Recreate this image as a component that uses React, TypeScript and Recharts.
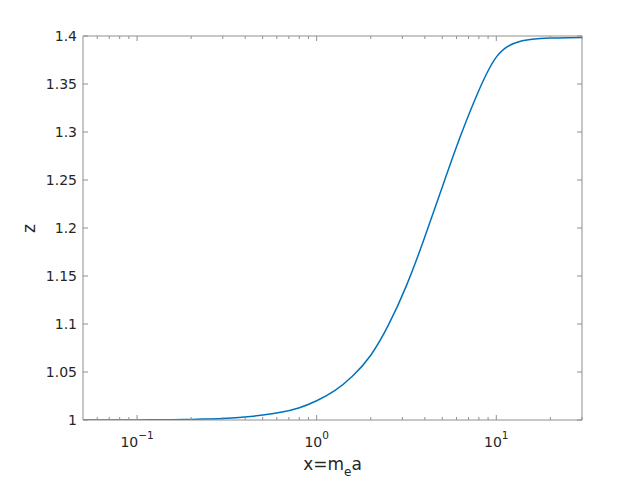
import React from 'react';
import { LineChart, Line, XAxis, YAxis } from 'recharts';

// x = m_e a (log scale), z values
const xValues = [0.05, 0.0794, 0.1, 0.126, 0.158, 0.2, 0.251, 0.316, 0.398, 0.501, 0.631, 0.794, 1, 1.26, 1.58, 2.0, 2.51, 3.16, 3.98, 5.01, 6.31, 7.94, 10, 12.6, 15.8, 20, 25.1, 30];
const zValues = [1.0000, 1.0000, 1.0001, 1.0002, 1.0003, 1.0006, 1.0011, 1.0019, 1.0032, 1.0051, 1.0080, 1.0125, 1.0200, 1.0305, 1.0455, 1.0675, 1.0990, 1.1400, 1.1895, 1.2430, 1.2955, 1.3420, 1.3780, 1.3925, 1.3966, 1.3979, 1.3983, 1.3984];

const xMajorTicks = [0.1, 1, 10];
const xMajorExponents = ['\u22121', '0', '1'];
const xMinorTicks = [0.06, 0.07, 0.08, 0.09, 0.2, 0.3, 0.4, 0.5, 0.6, 0.7, 0.8, 0.9, 2, 3, 4, 5, 6, 7, 8, 9, 20, 30];
const yTicks = [1, 1.05, 1.1, 1.15, 1.2, 1.25, 1.3, 1.35, 1.4];
const yTickLabels = ['1', '1.05', '1.1', '1.15', '1.2', '1.25', '1.3', '1.35', '1.4'];

const data = xValues.map((x, i) => ({ x, z: zValues[i] }));
const allXTicks = [...xMinorTicks, ...xMajorTicks].sort((a, b) => a - b);

const FONT = '"DejaVu Sans", sans-serif';
const TEXT = '#262626';
const AXIS = '#8f8f8f';
const W = 643;
const H = 482;

function BottomTick(props: any) {
  const { x, y, payload } = props;
  const idx = xMajorTicks.indexOf(payload.value);
  const len = idx >= 0 ? 5 : 3;
  return (
    <g>
      <line x1={x} x2={x} y1={y} y2={y - len} stroke={AXIS} strokeWidth={1} />
      {idx >= 0 && (
        <text x={x} y={y + 26.5} textAnchor="middle" fontFamily={FONT} fontSize={14} fill={TEXT}>
          10<tspan dy={-7.5} fontSize={10.5}>{xMajorExponents[idx]}</tspan>
        </text>
      )}
    </g>
  );
}

function TopTick(props: any) {
  const { x, y, payload } = props;
  const idx = xMajorTicks.indexOf(payload.value);
  const len = idx >= 0 ? 5 : 3;
  return <line x1={x} x2={x} y1={y} y2={y + len} stroke={AXIS} strokeWidth={1} />;
}

function LeftTick(props: any) {
  const { x, y, index } = props;
  return (
    <g>
      <line x1={x} x2={x + 5} y1={y} y2={y} stroke={AXIS} strokeWidth={1} />
      <text x={x - 6} y={y} dy="0.36em" textAnchor="end" fontFamily={FONT} fontSize={14} fill={TEXT}>
        {yTickLabels[index]}
      </text>
    </g>
  );
}

function RightTick(props: any) {
  const { x, y } = props;
  return <line x1={x} x2={x - 5} y1={y} y2={y} stroke={AXIS} strokeWidth={1} />;
}

export default function App() {
  return (
    <div style={{ position: 'absolute', left: 0, top: 0, width: W, height: H, background: '#fff' }}>
      <LineChart width={W} height={H} data={data} margin={{ top: 35, right: 60, left: 0, bottom: 0 }}>
        <XAxis
          xAxisId="bottom"
          dataKey="x"
          type="number"
          scale="log"
          domain={[0.05, 30]}
          allowDataOverflow
          ticks={allXTicks}
          interval={0}
          height={62}
          tickSize={0}
          tickMargin={0}
          tickLine={false}
          axisLine={{ stroke: AXIS, strokeWidth: 1 }}
          tick={<BottomTick />}
        />
        <XAxis
          xAxisId="top"
          orientation="top"
          dataKey="x"
          type="number"
          scale="log"
          domain={[0.05, 30]}
          allowDataOverflow
          ticks={allXTicks}
          interval={0}
          height={1}
          tickSize={0}
          tickMargin={0}
          tickLine={false}
          axisLine={{ stroke: AXIS, strokeWidth: 1 }}
          tick={<TopTick />}
        />
        <YAxis
          yAxisId="left"
          type="number"
          domain={[1, 1.4]}
          allowDataOverflow
          ticks={yTicks}
          interval={0}
          width={83}
          tickSize={0}
          tickMargin={0}
          tickLine={false}
          axisLine={{ stroke: AXIS, strokeWidth: 1 }}
          tick={<LeftTick />}
        />
        <YAxis
          yAxisId="right"
          orientation="right"
          type="number"
          domain={[1, 1.4]}
          allowDataOverflow
          ticks={yTicks}
          interval={0}
          width={1}
          tickSize={0}
          tickMargin={0}
          tickLine={false}
          axisLine={{ stroke: AXIS, strokeWidth: 1 }}
          tick={<RightTick />}
        />
        <Line
          xAxisId="top"
          yAxisId="right"
          dataKey="z"
          type="monotone"
          stroke="none"
          strokeWidth={0}
          dot={false}
          activeDot={false}
          legendType="none"
          isAnimationActive={false}
        />
        <Line
          xAxisId="bottom"
          yAxisId="left"
          dataKey="z"
          type="natural"
          stroke="#0072BD"
          strokeWidth={1.5}
          dot={false}
          isAnimationActive={false}
        />
      </LineChart>
      <svg width={W} height={H} style={{ position: 'absolute', left: 0, top: 0, pointerEvents: 'none' }}>
        <text
          x={35}
          y={228.5}
          transform="rotate(-90 35 228.5)"
          textAnchor="middle"
          fontFamily={FONT}
          fontSize={17}
          fill={TEXT}
        >
          z
        </text>
        <text x={332.5} y={470} textAnchor="middle" fontFamily={FONT} fontSize={17} fill={TEXT}>
          x=m<tspan dy={6} fontSize={12}>e</tspan><tspan dy={-6}>a</tspan>
        </text>
      </svg>
    </div>
  );
}
